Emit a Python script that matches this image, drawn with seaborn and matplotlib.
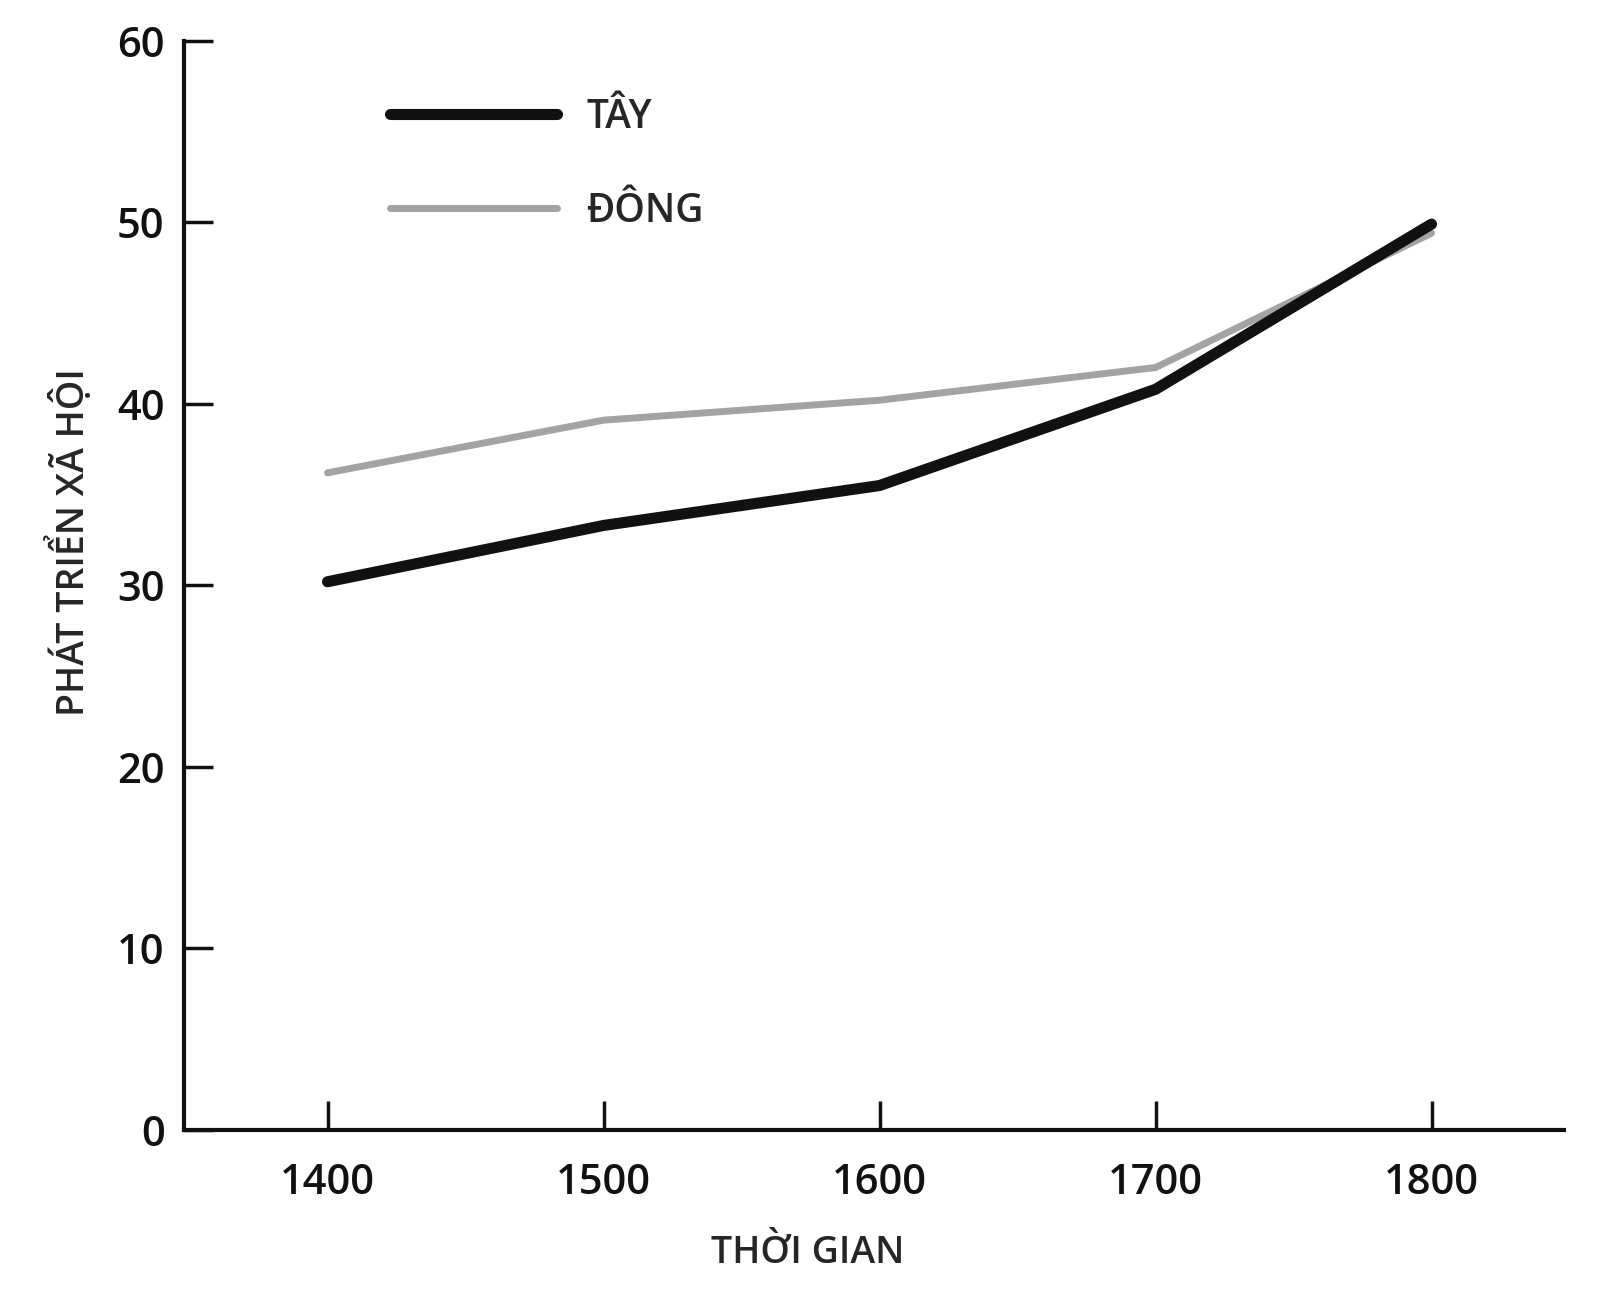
import matplotlib
matplotlib.use('Agg')
import matplotlib.pyplot as plt
import pandas as pd
import seaborn as sns

years = [1400, 1500, 1600, 1700, 1800]
tay = [30.2, 33.3, 35.5, 40.8, 49.9]
dong = [36.2, 39.1, 40.2, 42.0, 49.4]
y_ticks = [0, 10, 20, 30, 40, 50, 60]

sns.set_style('white')
plt.rcParams['font.family'] = ['Open Sans', 'DejaVu Sans']
plt.rcParams['font.weight'] = 'semibold'

fig = plt.figure(figsize=(16, 13.14), dpi=100)
ax = fig.add_axes([0.115, 0.140, 0.8625, 0.829])

sns.lineplot(x=years, y=dong, ax=ax, color='#a3a3a3', linewidth=5, label='ĐÔNG')
sns.lineplot(x=years, y=tay, ax=ax, color='#111111', linewidth=8, label='TÂY',
             solid_capstyle='round')

ax.set_xlim(1348, 1848)
ax.set_ylim(0, 60)
ax.set_xticks(years)
ax.set_yticks(y_ticks)
ax.tick_params(axis='both', direction='in', length=21, width=2.5, labelsize=30,
               colors='#111111', pad=14, bottom=True, left=True)
ax.tick_params(axis='x', pad=23)

for side in ['top', 'right']:
    ax.spines[side].set_visible(False)
for side in ['left', 'bottom']:
    ax.spines[side].set_linewidth(3)
    ax.spines[side].set_color('#111111')

ax.set_xlabel('THỜI GIAN', fontsize=27, fontweight='semibold')
ax.set_ylabel('PHÁT TRIỂN XÃ HỘI', fontsize=27, fontweight='semibold')
ax.xaxis.set_label_coords(0.452, -0.095)
ax.yaxis.set_label_coords(-0.066, 0.54)

handles, labels = ax.get_legend_handles_labels()
ax.legend(handles[::-1], labels[::-1], loc='upper left', bbox_to_anchor=(0.124, 0.98),
          frameon=False, fontsize=28, handlelength=4.3, labelspacing=1.4,
          handletextpad=0.75)

plt.savefig('out.png', dpi=100)
